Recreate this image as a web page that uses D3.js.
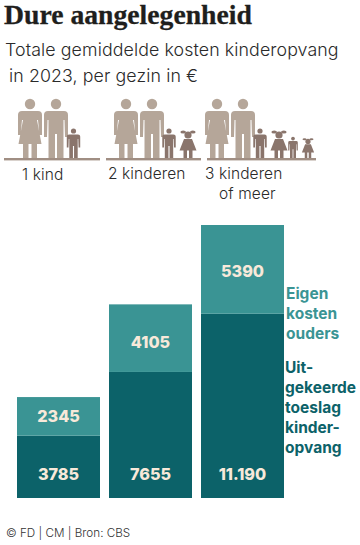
<!DOCTYPE html>
<html>
<head>
<meta charset="utf-8">
<script src="https://cdn.jsdelivr.net/npm/d3@7"></script>
<style>
  html, body { margin: 0; padding: 0; background: #fff; }
  svg { display: block; }
  text { font-family: "Inter", sans-serif; }
</style>
</head>
<body>
<svg id="chart" width="360" height="545"></svg>
<script>
  var categories = ["1 kind", "2 kinderen", "3 kinderen of meer"];
  var toeslag = [3785, 7655, 11190];
  var eigenKosten = [2345, 4105, 5390];
  var toeslagLabels = ["3785", "7655", "11.190"];
  var eigenLabels = ["2345", "4105", "5390"];

  var dark = "#0c6269", light = "#3a9494", cream = "#f8e9da";
  var adultCol = "#b5a699", childCol = "#8a756c", groundCol = "#a08e83";

  var svg = d3.select("#chart");

  function addText(str, x, y, size, weight, color, spacing, family) {
    return svg.append("text")
      .attr("x", x).attr("y", y)
      .attr("font-size", size)
      .attr("font-weight", weight)
      .attr("fill", color)
      .attr("letter-spacing", spacing || 0)
      .style("font-family", family || null)
      .text(str);
  }

  // title block
  addText("Dure aangelegenheid", 4, 24, 27.7, 700, "#1f1f1d", 0, '"Liberation Serif", serif')
    .attr("stroke", "#1f1f1d").attr("stroke-width", 0.3);
  addText("Totale gemiddelde kosten kinderopvang", 5, 56, 17.8, 300, "#2a2a2a", 0.1);
  addText("in 2023, per gezin in €", 9, 82, 17.8, 300, "#2a2a2a", 0.1);

  // pictograms
  var manPath = "M-8,-47 L8,-47 Q12,-47 12,-43 L12,-21 L9,-21 L8.5,-38 L7.5,-38 L7.5,0 L1,0 L1,-24 L-1,-24 L-1,0 L-7.5,0 L-7.5,-38 L-8.5,-38 L-9,-21 L-12,-21 L-12,-43 Q-12,-47 -8,-47 Z";
  var womanPath = "M-8,-47 L8,-47 Q12,-47 12,-43 L12,-23 L9.5,-23 L8,-38 L7,-38 L11.5,-14 L7,-14 L7,0 L1.5,0 L1.5,-14 L-1.5,-14 L-1.5,0 L-7,0 L-7,-14 L-11.5,-14 L-7,-38 L-8,-38 L-9.5,-23 L-12,-23 L-12,-43 Q-12,-47 -8,-47 Z";
  var girlPath = "M-4,-19 L4,-19 L8.5,-7.5 L4.5,-7.5 L4.5,0 L1,0 L1,-7.5 L-1,-7.5 L-1,0 L-4.5,0 L-4.5,-7.5 L-8.5,-7.5 Z";

  function person(type, cx, base, sx, sy, color) {
    var g = svg.append("g")
      .attr("transform", "translate(" + cx + "," + base + ") scale(" + sx + "," + sy + ")")
      .attr("fill", color);
    if (type == "girl") {
      g.append("path").attr("d", girlPath);
      g.append("circle").attr("cx", 0).attr("cy", -23).attr("r", 3.6);
      g.append("ellipse").attr("cx", -4.8).attr("cy", -26).attr("rx", 2.8).attr("ry", 1.5);
      g.append("ellipse").attr("cx", 4.8).attr("cy", -26).attr("rx", 2.8).attr("ry", 1.5);
      return;
    }
    g.append("path").attr("d", type == "man" ? manPath : womanPath);
    g.append("ellipse").attr("cx", 0).attr("cy", -54).attr("rx", 5.2 * sy / sx).attr("ry", 5.2);
  }

  var groundStart = [4, 106, 207];
  var groundEnd = [100, 201, 316];
  var adultX = [[30, 56], [126, 152], [217, 243]];
  var boyX = [73.5, 169, 260];

  categories.forEach(function(c, i) {
    person("woman", adultX[i][0], 158, 1, 1, adultCol);
    person("man", adultX[i][1], 158, 1, 1, adultCol);
    person("man", boyX[i], 158, 0.56, 0.5, childCol);
    svg.append("rect")
      .attr("x", groundStart[i]).attr("y", 158)
      .attr("width", groundEnd[i] - groundStart[i]).attr("height", 2.4)
      .attr("fill", groundCol);
  });
  person("girl", 188, 158, 1, 1, childCol);
  person("girl", 279, 158, 1, 1, childCol);
  person("man", 293, 158, 0.4, 0.36, childCol);
  person("girl", 308, 158, 0.72, 0.72, childCol);

  // category labels
  addText("1 kind", 22, 180, 15.5, 300, "#2a2a2a", 0.1);
  addText("2 kinderen", 108, 179, 15.5, 300, "#2a2a2a", 0.1);
  addText("3 kinderen", 205, 179, 15.5, 300, "#2a2a2a", 0.1);
  addText("of meer", 219, 199, 15.5, 300, "#2a2a2a", 0.1);

  // stacked bars
  var x = d3.scaleBand().domain(categories).range([17, 284]).paddingInner(9 / 92);
  var y = d3.scaleLinear().domain([0, 16580]).range([498, 225]);

  var bars = svg.selectAll("g.bar")
    .data(categories)
    .enter().append("g")
    .attr("class", "bar");

  bars.append("rect")
    .attr("x", function(d) { return x(d); })
    .attr("y", function(d, i) { return y(toeslag[i]); })
    .attr("width", x.bandwidth())
    .attr("height", function(d, i) { return y(0) - y(toeslag[i]); })
    .attr("fill", dark);

  bars.append("rect")
    .attr("x", function(d) { return x(d); })
    .attr("y", function(d, i) { return y(toeslag[i] + eigenKosten[i]); })
    .attr("width", x.bandwidth())
    .attr("height", function(d, i) { return y(toeslag[i]) - y(toeslag[i] + eigenKosten[i]); })
    .attr("fill", light);

  // value labels, upper ones sit a bit under the middle on the taller bars
  var nudge = [0, 4.5, 2];

  bars.append("text")
    .attr("x", function(d) { return x(d) + x.bandwidth() / 2; })
    .attr("y", function(d, i) { return y(toeslag[i] + eigenKosten[i] / 2) + 5.5 + nudge[i]; })
    .attr("text-anchor", "middle")
    .attr("font-size", 16.2).attr("font-weight", 800)
    .attr("fill", cream)
    .text(function(d, i) { return eigenLabels[i]; });

  bars.append("text")
    .attr("x", function(d) { return x(d) + x.bandwidth() / 2; })
    .attr("y", 480)
    .attr("text-anchor", "middle")
    .attr("font-size", 16.2).attr("font-weight", 800)
    .attr("fill", cream)
    .text(function(d, i) { return toeslagLabels[i]; });

  // series labels next to the last bar
  var eigenLines = ["Eigen", "kosten", "ouders"];
  var toeslagLines = ["Uit-", "gekeerde", "toeslag", "kinder-", "opvang"];

  eigenLines.forEach(function(t, i) {
    addText(t, 286, 299 + i * 20, 15.5, 700, light, 0);
  });
  toeslagLines.forEach(function(t, i) {
    addText(t, 285, 373 + i * 20.1, 15.5, 700, dark, 0);
  });

  addText("© FD | CM | Bron: CBS", 6, 537, 11.7, 300, "#333", 0);
</script>
</body>
</html>
